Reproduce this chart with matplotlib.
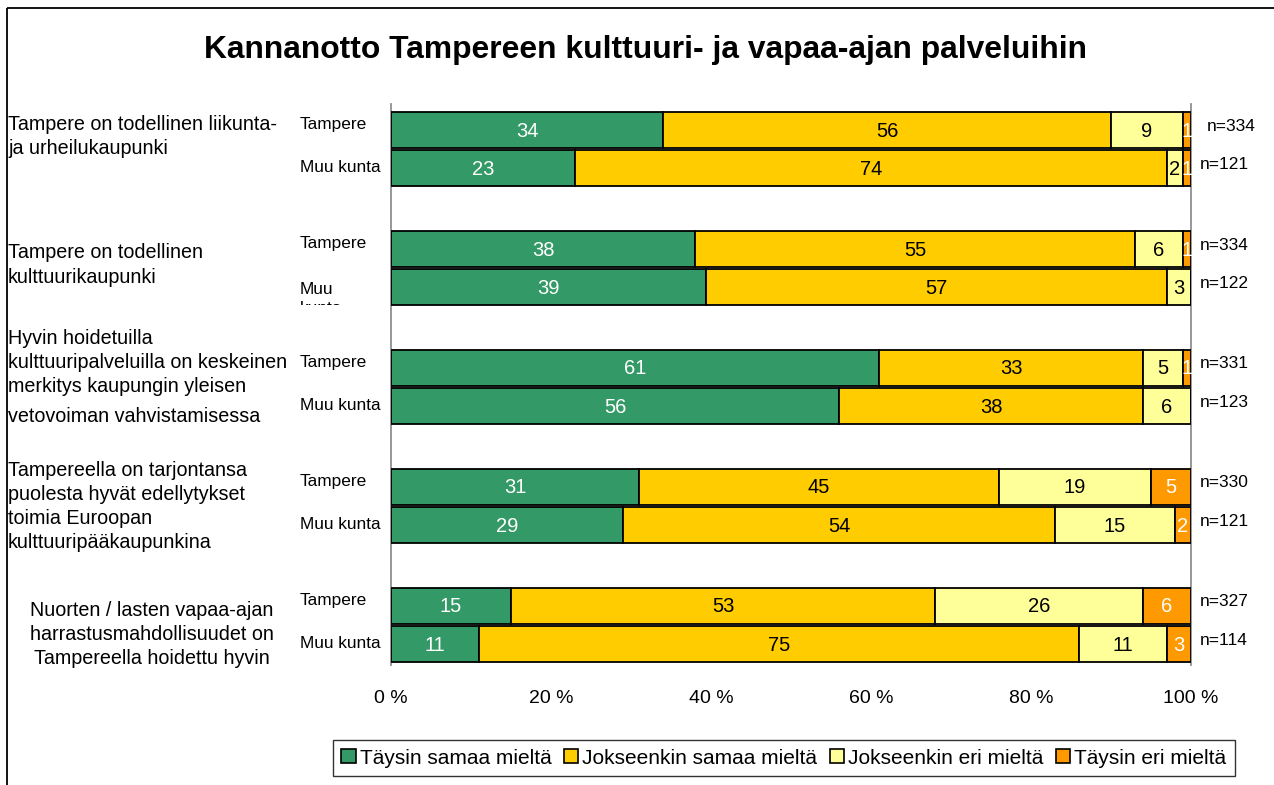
import matplotlib.pyplot as plt
import matplotlib.transforms as mtransforms
from matplotlib.patches import Patch, Rectangle
import numpy as np

plt.rcParams['font.family'] = ['Liberation Sans', 'DejaVu Sans']

W, H = 1274, 785

title = 'Kannanotto Tampereen kulttuuri- ja vapaa-ajan palveluihin'
series = ['Täysin samaa mieltä', 'Jokseenkin samaa mieltä',
          'Jokseenkin eri mieltä', 'Täysin eri mieltä']
colors = ['#339966', '#FFCC00', '#FFFF99', '#FF9900']
text_colors = ['white', 'black', 'black', 'white']

groups = ['Tampere', 'Muu kunta']
categories = [
    'Tampere on todellinen liikunta-\nja urheilukaupunki',
    'Tampere on todellinen\nkulttuurikaupunki',
    'Hyvin hoidetuilla\nkulttuuripalveluilla on keskeinen\nmerkitys kaupungin yleisen\nvetovoiman vahvistamisessa',
    'Tampereella on tarjontansa\npuolesta hyvät edellytykset\ntoimia Euroopan\nkulttuuripääkaupunkina',
    'Nuorten / lasten vapaa-ajan\nharrastusmahdollisuudet on\nTampereella hoidettu hyvin',
]

# rows: Tampere, Muu kunta for each statement (percent, 0 = not shown)
full_agree = [34, 23, 38, 39, 61, 56, 31, 29, 15, 11]
some_agree = [56, 74, 55, 57, 33, 38, 45, 54, 53, 75]
some_disagree = [9, 2, 6, 3, 5, 6, 19, 15, 26, 11]
full_disagree = [1, 1, 1, 0, 1, 0, 5, 2, 6, 3]
n_resp = [334, 121, 334, 122, 331, 123, 330, 121, 327, 114]

xticks = [0, 20, 40, 60, 80, 100]
xtick_labels = ['0 %', '20 %', '40 %', '60 %', '80 %', '100 %']


def px(x, y):
    return x / W, 1 - y / H


fig = plt.figure(figsize=(W / 100, H / 100), dpi=100)
ax = fig.add_axes([391 / W, 1 - 665 / H, 800 / W, 561 / H])

# outer frame (right and bottom edges fall outside the picture)
fig.patches.append(Rectangle(px(7, 8), 1.0, -1.0, transform=fig.transFigure,
                             fill=False, edgecolor='black', linewidth=1.3))

data = np.array([full_agree, some_agree, some_disagree, full_disagree], dtype=float)
pct = data / data.sum(axis=0) * 100  # 100 % stacked

gap = 3.1
ypos = []
for g in range(len(categories)):
    ypos += [g * gap, g * gap + 1]
ypos = np.array(ypos)

left = np.zeros(len(ypos))
for i in range(4):
    ax.barh(ypos, pct[i], left=left, height=0.94, color=colors[i],
            edgecolor='black', linewidth=1.3, zorder=3)
    for j in range(len(ypos)):
        if data[i, j] > 0:
            ax.text(left[j] + pct[i, j] / 2, ypos[j] + 0.03, f'{int(data[i, j])}',
                    ha='center', va='center', fontsize=14.5,
                    color=text_colors[i], zorder=4)
    left += pct[i]

ax.set_xlim(0, 100)
ax.set_ylim(ypos[-1] + 0.55, -0.68)
ax.set_xticks(xticks)
ax.set_xticklabels(xtick_labels, fontsize=14)
ax.set_yticks([])
ax.tick_params(axis='x', length=0, pad=18)
for s in ['top', 'bottom']:
    ax.spines[s].set_visible(False)
for s in ['left', 'right']:
    ax.spines[s].set_color('#909090')
    ax.spines[s].set_linewidth(1.3)

# group / n labels
trans = mtransforms.blended_transform_factory(fig.transFigure, ax.transData)
clip = mtransforms.Bbox([[0, H - 305], [W, H]])
for j, y in enumerate(ypos):
    name = groups[j % 2]
    if j == 3:
        t = fig.text(300 / W, y + 0.3, 'Muu\nkunta', transform=trans,
                     fontsize=12.4, va='center', ha='left', linespacing=1.3)
        t.set_clip_box(clip)
        t.set_clip_on(True)
    else:
        dy = -0.14 if j % 2 == 0 else -0.02
        fig.text(300 / W, y + dy, name, transform=trans, fontsize=12.4,
                 va='center', ha='left')
    nx = 1207 if j == 0 else 1200
    fig.text(nx / W, y - 0.1, f'n={n_resp[j]}', transform=trans, fontsize=12.5,
             va='center', ha='left')

# statement labels (line positions in pixels)
line_y = [[124, 148], [253, 278], [339, 362, 386, 416],
          [470, 494, 518, 542], [610, 634, 658]]
for k, cat in enumerate(categories):
    for line, yy in zip(cat.split('\n'), line_y[k]):
        if k == 4:
            fig.text(*px(152, yy), line, fontsize=14.2, ha='center', va='center')
        else:
            fig.text(*px(8, yy), line, fontsize=14.2, ha='left', va='center')

fig.text(*px(646, 50), title, fontsize=22.9, fontweight='bold',
         ha='center', va='center')

handles = [Patch(facecolor=c, edgecolor='black', linewidth=1.2) for c in colors]
leg = fig.legend(handles, series, loc='center', bbox_to_anchor=px(784, 758),
                 ncol=4, fontsize=15, frameon=True, fancybox=False,
                 handlelength=0.68, handleheight=0.68, handletextpad=0.2,
                 columnspacing=0.6, borderpad=0.4, borderaxespad=0)
leg.get_frame().set_edgecolor('black')
leg.get_frame().set_linewidth(1.0)

fig.savefig('out.png', dpi=100)
